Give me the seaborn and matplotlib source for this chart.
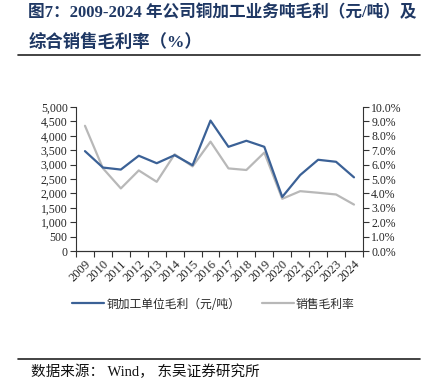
import numpy as np
import pandas as pd
import matplotlib
matplotlib.use('Agg')
import matplotlib.pyplot as plt
import seaborn as sns
from matplotlib.lines import Line2D
from matplotlib.ticker import FuncFormatter, FixedLocator

# data
years = [str(y) for y in range(2009, 2025)]
profit_per_ton = [3470, 2900, 2830, 3310, 3050, 3330, 2980, 4530,
                  3620, 3830, 3620, 1880, 2640, 3170, 3100, 2560]
gross_margin = [8.70, 5.75, 4.35, 5.60, 4.81, 6.72, 5.88, 7.60,
                5.74, 5.63, 6.84, 3.63, 4.16, 4.05, 3.93, 3.23]

label_profit = '铜加工单位毛利（元/吨）'
label_margin = '销售毛利率'

blue = '#3b6196'
grey = '#b8b8b8'

sns.set_style('white')
plt.rcParams['font.family'] = ['Liberation Serif', 'Noto Sans CJK SC']

df = pd.DataFrame({'year': years, 'profit': profit_per_ton, 'margin': gross_margin})

fig = plt.figure(figsize=(4.27, 3.81), dpi=100)
ax = fig.add_axes([0.178, 0.341, 0.672, 0.378])
ax2 = ax.twinx()

sns.lineplot(data=df, x='year', y='profit', ax=ax, color=blue, linewidth=1.6,
             sort=False, legend=False)
sns.lineplot(data=df, x='year', y='margin', ax=ax2, color=grey, linewidth=1.6,
             sort=False, legend=False)
# keep the blue line on top
ax.set_zorder(ax2.get_zorder() + 1)
ax.patch.set_visible(False)

n = len(years)
ax.set_xlim(-0.5, n - 0.5)
ax.set_ylim(0, 5000)
ax2.set_ylim(0, 10)
ax.set_yticks(np.arange(0, 5001, 500))
ax2.set_yticks(np.arange(0, 10.01, 1))
ax.yaxis.set_major_formatter(FuncFormatter(lambda v, p: f'{int(v):,}'))
ax2.yaxis.set_major_formatter(FuncFormatter(lambda v, p: f'{v:.1f}%'))

ax.set_xticks(range(n))
ax.set_xticklabels(years, rotation=45, ha='right', rotation_mode='anchor')
ax.xaxis.set_minor_locator(FixedLocator(np.arange(-0.5, n, 1)))
ax.tick_params(axis='x', which='major', length=0, labelsize=9, pad=5)
ax.tick_params(axis='x', which='minor', length=4, width=0.8, direction='out',
               bottom=True, color='#333333')
ax.tick_params(axis='y', length=4, width=0.8, direction='out', labelsize=8.5,
               left=True, color='#333333', pad=2)
ax2.tick_params(axis='y', length=4, width=0.8, direction='out', labelsize=8.5,
                right=True, color='#333333', pad=2)

for a in (ax, ax2):
    a.set_xlabel('')
    a.set_ylabel('')
    a.spines['top'].set_visible(False)
    for s in ('left', 'right', 'bottom'):
        a.spines[s].set_color('#333333')
        a.spines[s].set_linewidth(0.8)
ax.spines['right'].set_visible(False)
ax2.spines['left'].set_visible(False)

handles = [Line2D([0], [0], color=blue, linewidth=1.6),
           Line2D([0], [0], color=grey, linewidth=1.6)]
fig.legend(handles, [label_profit, label_margin], loc='center',
           bbox_to_anchor=(0.5, 1 - 304 / 381), ncol=2, frameon=False,
           handlelength=2.7, handletextpad=0.2, columnspacing=1.8,
           prop={'family': ['Noto Sans CJK SC'], 'size': 8.5, 'weight': 'light'})

# title and source
title_color = '#1f3864'
fig.text(0.066, 1 - 13 / 381, '图7：2009-2024 年公司铜加工业务吨毛利（元/吨）及',
         fontsize=12, fontweight='bold', color=title_color, va='center',
         family=['Liberation Serif', 'Noto Sans CJK SC'])
fig.text(0.066, 1 - 42 / 381, '综合销售毛利率（%）',
         fontsize=12.5, fontweight='bold', color=title_color, va='center',
         family=['Liberation Serif', 'Noto Sans CJK SC'])
fig.add_artist(Line2D([18 / 427, 420 / 427], [1 - 55 / 381, 1 - 55 / 381],
                      color='#222222', linewidth=1.2))
fig.add_artist(Line2D([18 / 427, 420 / 427], [1 - 358.5 / 381, 1 - 358.5 / 381],
                      color='#222222', linewidth=1.2))
fig.text(0.072, 1 - 372 / 381, '数据来源： Wind， 东吴证券研究所', fontsize=10.5,
         color='#111111', va='center', family=['Liberation Serif', 'Noto Sans CJK SC'])

fig.savefig('out.png', dpi=100)
